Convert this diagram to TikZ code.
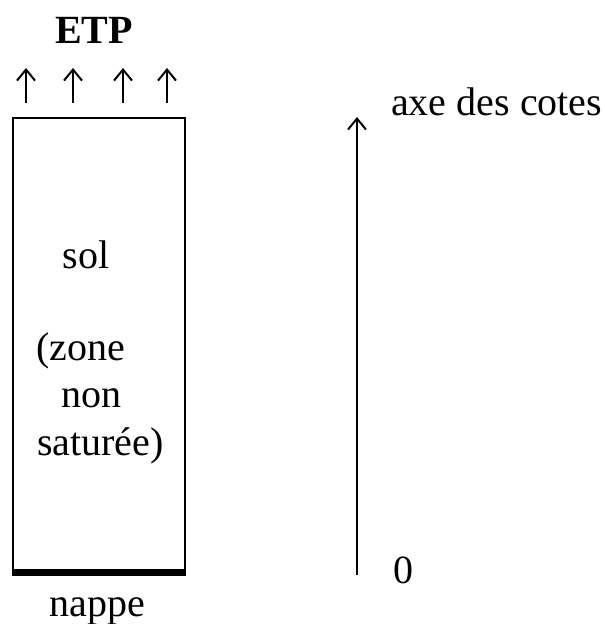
\documentclass[tikz,border=0pt]{standalone}
\usepackage{fontspec}
\setmainfont{Liberation Serif}
\usetikzlibrary{arrows.meta}
\begin{document}
\begin{tikzpicture}[x=1pt,y=-1pt,
  lbl/.style={inner sep=0pt, font=\fontsize{40}{46}\selectfont},
  up/.style={line width=2pt, -{Straight Barb[length=11pt,width=18pt,line width=2pt]}}]
\useasboundingbox (0,0) rectangle (605,624);
\node[inner sep=0pt, anchor=base, font=\fontsize{40}{46}\bfseries\selectfont] (etp) at (94,43) {ETP};
\foreach \i/\x in {1/26,2/73,3/123,4/167}{
  \coordinate (b\i) at (\x,103);
  \coordinate (t\i) at (\x,68);
  \draw[up] (b\i) -- (t\i);
}
\coordinate (tl) at (13,118);
\coordinate (br) at (185,572);
\draw[line width=2pt] (tl) rectangle (br);
\coordinate (bl) at (12,572);
\coordinate (brr) at (186,572);
\draw[line width=7pt] (bl) -- (brr);
\node[lbl, anchor=base] (sol) at (86,268) {sol};
\node[lbl, anchor=base west] (zone) at (36,360) {(zone};
\node[lbl, anchor=base] (non) at (91,407) {non};
\node[lbl, anchor=base west] (sat) at (37,455) {saturée)};
\node[lbl, anchor=base] (nappe) at (97,616) {nappe};
\coordinate (a0) at (357,575);
\coordinate (a1) at (357,117);
\draw[up] (a0) -- (a1);
\node[lbl, anchor=base west] (axe) at (391,115) {axe des cotes};
\node[lbl, anchor=base] (zero) at (403,583) {0};
\end{tikzpicture}
\end{document}
